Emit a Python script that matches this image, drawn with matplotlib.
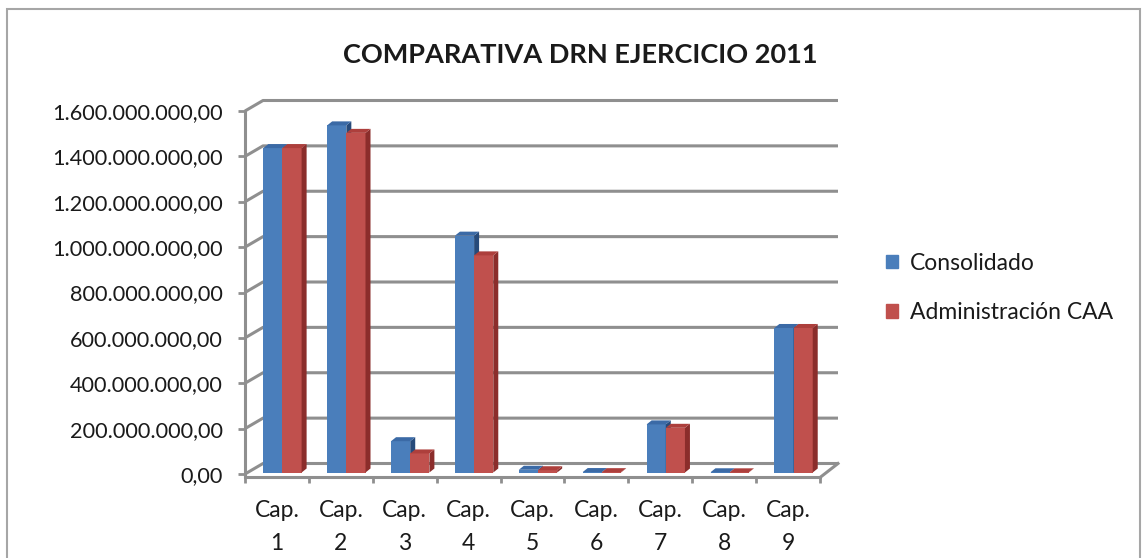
import matplotlib
matplotlib.use('Agg')
import matplotlib.pyplot as plt
import matplotlib.transforms as mtransforms
from matplotlib.patches import Polygon, Rectangle, Patch
import numpy as np

plt.rcParams['font.family'] = ['Lato', 'DejaVu Sans']

# datos
categorias = ['Cap.\n1', 'Cap.\n2', 'Cap.\n3', 'Cap.\n4', 'Cap.\n5',
              'Cap.\n6', 'Cap.\n7', 'Cap.\n8', 'Cap.\n9']
consolidado = [1.430e9, 1.530e9, 0.138e9, 1.044e9, 0.012e9, 0.002e9, 0.212e9, 0.001e9, 0.637e9]
administracion = [1.430e9, 1.497e9, 0.084e9, 0.957e9, 0.010e9, 0.0015e9, 0.197e9, 0.0008e9, 0.637e9]
y_ticks = [0, 2e8, 4e8, 6e8, 8e8, 10e8, 12e8, 14e8, 16e8]
series = ['Consolidado', 'Administración CAA']

DPI = 100
W, H = 1143, 558
GRID = '#8f8f8f'
WALL = np.array([18.0, 10.5])   # desplazamiento de la pared del fondo (px)
BAR = np.array([5.5, 1.5])      # plano frontal de las columnas (px)
DEP = np.array([5.0, 4.0])      # profundidad de cada columna (px)

colores = {'Consolidado': ('#4a7ebb', '#3b6aa6', '#264a7a'),
           'Administración CAA': ('#c0504d', '#ad3f3c', '#8b2d2b')}


def fmt(v):
    s = '{:,.2f}'.format(v)
    return s.replace(',', 'X').replace('.', ',').replace('X', '.')


fig = plt.figure(figsize=(W / DPI, H / DPI), dpi=DPI)
ax = fig.add_axes([245 / W, 84 / H, 575 / W, 363 / H])
ax.set_xlim(0, 9)
ax.set_ylim(0, 1.6e9)
ax.patch.set_visible(False)

ident = mtransforms.IdentityTransform()


def disp(x, v, off=(0, 0)):
    return ax.transData.transform((x, v)) + np.asarray(off)


# pared del fondo y lineas de division
for v in y_ticks:
    a, b, c = disp(0, v), disp(0, v, WALL), disp(9, v, WALL)
    ax.plot([a[0], b[0], c[0]], [a[1], b[1], c[1]], color=GRID, lw=2.2,
            transform=ident, clip_on=False, zorder=1, solid_capstyle='butt')

# suelo: borde derecho
a, b = disp(9, 0, (0, -3.5)), disp(9, 0, WALL)
ax.plot([a[0], b[0]], [a[1], b[1]], color=GRID, lw=2.2, transform=ident,
        clip_on=False, zorder=1)

# columnas
x = np.arange(len(categorias)) + 0.5
w = 0.3
front_tr = ax.transData + mtransforms.ScaledTranslation(BAR[0] / DPI, BAR[1] / DPI,
                                                        fig.dpi_scale_trans)
for i in range(len(categorias)):
    for k, (name, vals) in enumerate([(series[0], consolidado), (series[1], administracion)]):
        xl = x[i] - w + k * w
        v = vals[i]
        cf, ct, cs = colores[name]
        z = 3 + k * 3
        ax.bar(xl, v, width=w, align='edge', color=cf, lw=0,
               transform=front_tr, clip_on=False, zorder=z)
        top = [disp(xl, v, BAR), disp(xl + w, v, BAR),
               disp(xl + w, v, BAR + DEP), disp(xl, v, BAR + DEP)]
        side = [disp(xl + w, 0, BAR), disp(xl + w, v, BAR),
                disp(xl + w, v, BAR + DEP), disp(xl + w, 0, BAR + DEP)]
        ax.add_patch(Polygon(side, closed=True, color=cs, lw=0, transform=ident,
                             clip_on=False, zorder=z + 1))
        ax.add_patch(Polygon(top, closed=True, color=ct, lw=0, transform=ident,
                             clip_on=False, zorder=z + 2))

# ejes
for s in ['top', 'right']:
    ax.spines[s].set_visible(False)
ax.spines['left'].set_color(GRID)
ax.spines['left'].set_linewidth(2.2)
ax.spines['bottom'].set_color(GRID)
ax.spines['bottom'].set_linewidth(2.2)
ax.spines['bottom'].set_position(('outward', 2.5))
ax.spines['bottom'].set_bounds(0, 9)

ax.set_yticks(y_ticks, [fmt(v) for v in y_ticks])
ax.tick_params(axis='y', length=5, width=2, color=GRID, pad=11,
               labelsize=15.6, labelcolor='#1a1a1a')
ax.set_xticks(range(10))
ax.set_xticklabels([])
ax.set_xticks(x, categorias, minor=True)
ax.tick_params(axis='x', which='major', length=4.5, width=2, color=GRID)
ax.tick_params(axis='x', which='minor', length=0, pad=16,
               labelsize=16.5, labelcolor='#1a1a1a')
for t in ax.get_xticklabels(minor=True):
    t.set_linespacing(1.75)

fig.text(580 / W, 1 - 55 / H, 'COMPARATIVA DRN EJERCICIO 2011', ha='center',
         va='center', fontsize=19.5, fontweight='bold', color='#1a1a1a')

handles = [Patch(color=colores[n][0], label=n) for n in series]
fig.legend(handles=handles, loc='center left', bbox_to_anchor=(865 / W, 1 - 288 / H),
           frameon=False, fontsize=16.5, handlelength=0.55, handleheight=0.55,
           handletextpad=0.5, labelspacing=1.25, labelcolor='#1a1a1a')

fig.patches.append(Rectangle((7 / W, -0.05), (1140 - 7) / W, 1.05 - 9 / H,
                             transform=fig.transFigure, fill=False,
                             edgecolor='#a6a6a6', lw=1.5))

fig.savefig('out.png', dpi=DPI)
